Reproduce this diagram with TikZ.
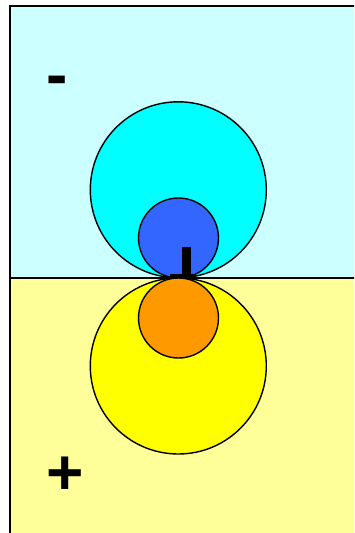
\documentclass[tikz,border=0pt]{standalone}
\usepackage{fontspec}
\setmainfont{Liberation Sans}
\definecolor{paleCyan}{HTML}{CCFFFF}
\definecolor{paleYellow}{HTML}{FFFF99}
\definecolor{aqua}{HTML}{00FFFF}
\definecolor{royal}{HTML}{3366FF}
\definecolor{sun}{HTML}{FFFF00}
\definecolor{amber}{HTML}{FF9900}
\tikzset{
  ring/.style={draw=black, line width=1.4pt},
  border/.style={draw=black, line width=2pt},
  sign/.style={inner sep=0pt, font=\fontsize{64}{64}\selectfont\bfseries, anchor=base}
}
\begin{document}
\begin{tikzpicture}[x=1pt,y=-1pt]
\clip (0,0) rectangle (354,533);
% regions
\fill[paleCyan] (10,6) rectangle (360,278);
\fill[paleYellow] (10,278) rectangle (360,540);
\draw[border] (360,6) -- (10,6) -- (10,540);
\draw[border] (10,278) -- (360,278);
% big circles
\draw[ring, fill=aqua] (178.3,189.8) circle (88);
\draw[ring, fill=sun] (178.3,366) circle (88);
% small top circle
\draw[ring, fill=royal] (178.5,238) circle (40);
% central mark
\fill[black] (182.3,246.7) rectangle (190.7,279);
\fill[black] (170,274.3) rectangle (196,279);
% small bottom circle
\draw[ring, fill=amber] (178.5,318) circle (40);
% signs
\node[sign] (minus) at (57,96) {-};
\node[sign] (plus) at (64.7,494) {+};
\end{tikzpicture}
\end{document}
